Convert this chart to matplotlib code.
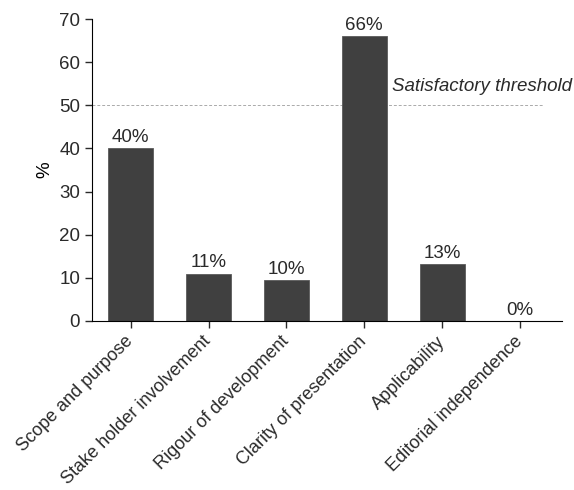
import matplotlib
matplotlib.use("Agg")
import matplotlib.pyplot as plt

categories = ["Scope and purpose", "Stake holder involvement", "Rigour of development",
              "Clarity of presentation", "Applicability", "Editorial independence"]
values = [40, 11, 9.5, 66, 13.2, 0]
labels = ["40%", "11%", "10%", "66%", "13%", "0%"]
threshold = 50
threshold_label = "Satisfactory threshold"

plt.rcParams["font.family"] = ["Liberation Sans", "DejaVu Sans"]
plt.rcParams["font.size"] = 13.5

fig = plt.figure(figsize=(5.74, 4.9), dpi=100)
ax = fig.add_axes([0.160, 0.345, 0.819, 0.616])

x = range(len(categories))
ax.bar(x, values, width=0.58, color="#404040", edgecolor="#5a5a5a", linewidth=0.6, zorder=2)
for xi, v, lab in zip(x, values, labels):
    ax.text(xi, v + 0.5, lab, ha="center", va="bottom", color="#2a2a2a")

ax.plot([-0.5, 5.3], [threshold, threshold], ls=(0, (3, 2)), color="#aaaaaa", lw=0.7, zorder=1)
ax.text(3.36, 52.3, threshold_label, style="italic", ha="left", va="bottom", color="#2a2a2a")

ax.set_xlim(-0.5, 5.54)
ax.set_ylim(0, 70)
ax.set_yticks(range(0, 71, 10))
ax.set_xticks(list(x))
ax.set_xticklabels(categories, rotation=45, ha="right", va="center",
                   rotation_mode="anchor", fontsize=13)
ax.set_ylabel("%")
for s in ["top", "right"]:
    ax.spines[s].set_visible(False)
ax.tick_params(direction="out", length=5, width=1, colors="#2a2a2a")
ax.tick_params(axis="x", pad=8)

fig.savefig("out.png", dpi=100)
